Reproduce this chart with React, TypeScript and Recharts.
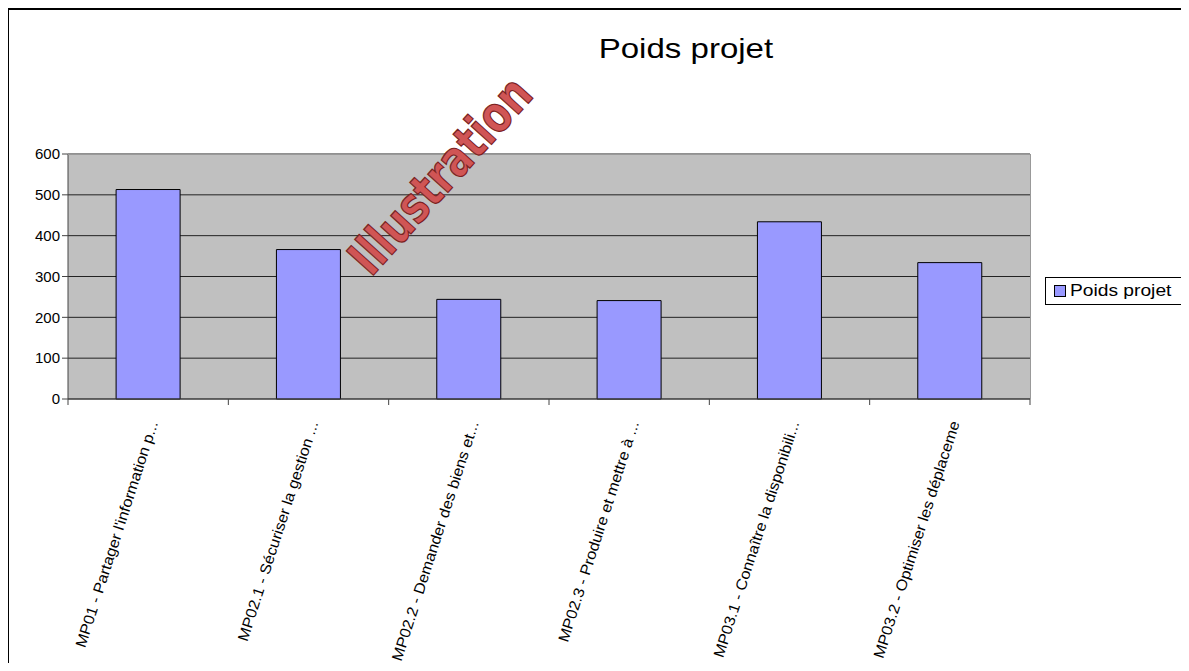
import { BarChart, Bar, XAxis, YAxis, CartesianGrid } from "recharts";

const categories = [
  "MP01 - Partager l'information p...",
  "MP02.1 - Sécuriser la gestion ...",
  "MP02.2 - Demander des biens et...",
  "MP02.3 - Produire et mettre à ...",
  "MP03.1 - Connaître la disponibili...",
  "MP03.2 - Optimiser les déplaceme",
];
const poidsProjet = [513, 366, 244, 241, 434, 334];
const yTicks = [0, 100, 200, 300, 400, 500, 600];

const data = categories.map((name, i) => ({ name, poids: poidsProjet[i] }));

const FONT = "'Liberation Sans', Arial, sans-serif";

const AngledTick = (props: any) => {
  const { x, y, payload } = props;
  return (
    <g transform={`translate(${x + 10},${y + 16})`}>
      <text
        transform="rotate(-72) scale(1.08,1)"
        textAnchor="end"
        fontSize={15}
        fontFamily={FONT}
        fill="#000"
      >
        {payload.value}
      </text>
    </g>
  );
};

export default function App() {
  return (
    <div
      style={{
        position: "relative",
        width: 1189,
        height: 671,
        margin: -8,
        overflow: "hidden",
        background: "#fff",
        fontFamily: FONT,
      }}
    >
      {/* outer chart frame, runs off the right/bottom edges */}
      <div
        style={{
          position: "absolute",
          left: 7,
          top: 8,
          width: 1300,
          height: 800,
          borderLeft: "2px solid #000",
          borderTop: "2px solid #000",
        }}
      />
      <div
        style={{
          position: "absolute",
          left: 0,
          width: 1372,
          top: 33,
          textAlign: "center",
          fontSize: 28,
          color: "#000",
        }}
      >
        <span style={{ display: "inline-block", transform: "scaleX(1.18)" }}>
          Poids projet
        </span>
      </div>
      <div style={{ position: "absolute", left: 0, top: 0 }}>
        <BarChart
          width={1189}
          height={671}
          data={data}
          margin={{ top: 154, right: 159, left: 0, bottom: 0 }}
          barCategoryGap="30%"
        >
          <CartesianGrid
            vertical={false}
            stroke="#222"
            fill="#c0c0c0"
            horizontalValues={yTicks}
          />
          <XAxis
            dataKey="name"
            height={272}
            interval={0}
            tick={<AngledTick />}
            stroke="#444"
            tickLine={false}
          />
          <YAxis
            width={68}
            domain={[0, 600]}
            ticks={yTicks}
            stroke="#444"
            tickSize={6}
            tick={{ fontSize: 15, fill: "#000", fontFamily: FONT }}
          />
          <Bar
            dataKey="poids"
            fill="#9999ff"
            stroke="#000"
            strokeWidth={1}
            isAnimationActive={false}
          />
        </BarChart>
      </div>
      {/* category separator ticks on the x axis */}
      <svg
        style={{ position: "absolute", left: 0, top: 0, pointerEvents: "none" }}
        width={1189}
        height={671}
      >
        {Array.from({ length: categories.length + 1 }).map((_, i) => {
          const x = 68 + (i * (1030 - 68)) / categories.length;
          return (
            <line key={i} x1={x} x2={x} y1={399} y2={405} stroke="#444" />
          );
        })}
        <line x1={1030.5} x2={1030.5} y1={154} y2={399} stroke="#999" />
        <line x1={68} x2={1030} y1={154.5} y2={154.5} stroke="#999" />
        <g transform="translate(443,178) rotate(-48)">
          <text
            textAnchor="middle"
            dominantBaseline="middle"
            fontSize={50}
            fontWeight="bold"
            fontFamily="'DejaVu Sans Condensed', 'DejaVu Sans', sans-serif"
            fill="#d05555"
            stroke="#7a2222"
            strokeWidth={1.2}
            textLength={245}
            lengthAdjust="spacingAndGlyphs"
          >
            Illustration
          </text>
        </g>
      </svg>
      <div
        style={{
          position: "absolute",
          left: 1045,
          top: 277,
          width: 137,
          height: 28,
          border: "1px solid #000",
          background: "#fff",
          display: "flex",
          alignItems: "center",
          boxSizing: "border-box",
          paddingLeft: 8,
          fontSize: 16,
          color: "#000",
        }}
      >
        <span
          style={{
            display: "inline-block",
            width: 10,
            height: 10,
            background: "#9999ff",
            border: "1px solid #000",
            marginRight: 4,
          }}
        />
        <span
          style={{
            display: "inline-block",
            transform: "scaleX(1.2)",
            transformOrigin: "left center",
          }}
        >
          Poids projet
        </span>
      </div>
    </div>
  );
}
